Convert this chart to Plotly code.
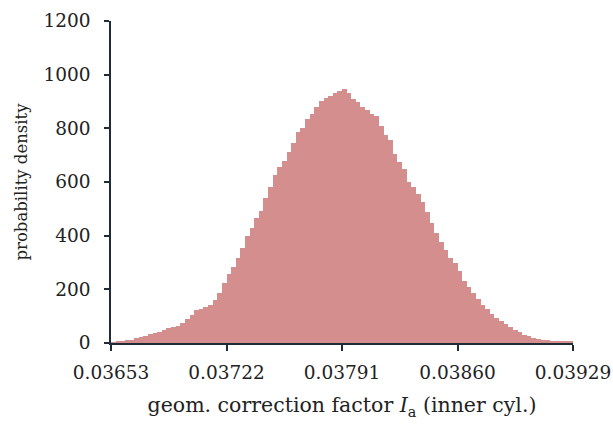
import plotly.graph_objects as go

# Histogram: probability density of geometric correction factor
x_min = 0.03653
x_max = 0.03929
density = [
    3, 4, 6, 10, 13, 19, 24, 27, 32, 36,
    41, 47, 55, 60, 65, 76, 90, 104, 122, 126,
    135, 143, 160, 188, 222, 258, 283, 315, 355, 400,
    430, 465, 492, 540, 582, 625, 657, 680, 710, 745,
    785, 800, 835, 855, 880, 903, 912, 922, 932, 940,
    948, 930, 910, 900, 878, 870, 855, 845, 810, 775,
    755, 705, 675, 650, 600, 580, 556, 525, 490, 448,
    410, 375, 345, 318, 298, 270, 232, 210, 185, 163,
    142, 125, 108, 92, 82, 72, 58, 49, 40, 31,
    25, 20, 16, 13, 11, 9, 8, 7, 7, 7,
]
x_tickvals = [0.03653, 0.03722, 0.03791, 0.03860, 0.03929]
x_ticktext = ["0.03653", "0.03722", "0.03791", "0.03860", "0.03929"]
y_tickvals = [0, 200, 400, 600, 800, 1000, 1200]

n = len(density)
bw = (x_max - x_min) / n
centers = [x_min + bw * (i + 0.5) for i in range(n)]

FONT = "DejaVu Serif"
AXIS_COLOR = "#1f2b36"
TEXT = "#222"

fig = go.Figure(go.Bar(
    x=centers, y=density, width=[bw] * n,
    marker=dict(color="#D48E8E", line=dict(width=0)),
))

fig.update_layout(
    width=613, height=424,
    margin=dict(l=111, r=40, t=21, b=81),
    paper_bgcolor="white", plot_bgcolor="white",
    bargap=0, showlegend=False,
    font=dict(family=FONT, size=18, color=TEXT),
)
fig.update_xaxes(
    range=[x_min, x_max], tickvals=x_tickvals, ticktext=x_ticktext,
    showgrid=False, zeroline=False, automargin=False,
    showline=True, linecolor=AXIS_COLOR, linewidth=1.5,
    ticks="outside", ticklen=6, tickwidth=1.5, tickcolor=AXIS_COLOR,
    ticklabelstandoff=6,
    tickfont=dict(family=FONT, size=18.5, color=TEXT),
    title=dict(text="geom. correction factor <i>I</i><sub>a</sub> (inner cyl.)",
               font=dict(family=FONT, size=20.5, color=TEXT), standoff=16),
)
fig.update_yaxes(
    range=[0, 1200], tickvals=y_tickvals,
    showgrid=False, zeroline=False, automargin=False,
    showline=True, linecolor=AXIS_COLOR, linewidth=1.5,
    ticks="outside", ticklen=5, tickwidth=1.5, tickcolor=AXIS_COLOR,
    ticklabelstandoff=10,
    tickfont=dict(family=FONT, size=18.5, color=TEXT),
    title=dict(text="probability density",
               font=dict(family=FONT, size=16.5, color=TEXT), standoff=12),
)

fig.write_html("out.html", config={"displayModeBar": False},
               post_script="document.body.style.margin='0';")
